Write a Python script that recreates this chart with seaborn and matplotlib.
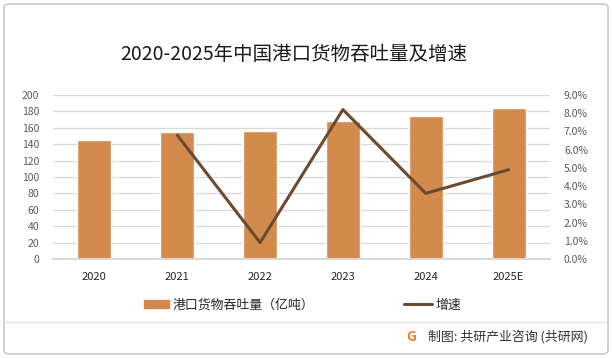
import numpy as np
import pandas as pd
import seaborn as sns
import matplotlib.pyplot as plt
from matplotlib.patches import FancyBboxPatch
from matplotlib.lines import Line2D
from matplotlib.ticker import PercentFormatter, MultipleLocator

years = ["2020", "2021", "2022", "2023", "2024", "2025E"]
throughput = [145, 155, 156, 168, 174, 184]          # 亿吨
growth = [np.nan, 6.8, 0.9, 8.2, 3.6, 4.9]           # %

bar_color = "#D38B4D"
line_color = "#6B4A2F"
grid_color = "#D9D9D9"
tick_color = "#595959"

sns.set_theme(style="white")
plt.rcParams["font.family"] = ["Noto Sans CJK SC", "DejaVu Sans"]

df = pd.DataFrame({"year": years, "throughput": throughput, "growth": growth})

fig = plt.figure(figsize=(6.12, 3.58), dpi=100)
ax = fig.add_axes([53 / 612, 1 - 259 / 358, 497 / 612, 164 / 358])

sns.barplot(data=df, x="year", y="throughput", color=bar_color, width=0.41,
            saturation=1, ax=ax, zorder=2)
ax.set_ylim(0, 200)
ax.yaxis.set_major_locator(MultipleLocator(20))
ax.grid(axis="y", color=grid_color, linewidth=0.9, zorder=0)
ax.set_axisbelow(True)
ax.set_xlabel("")
ax.set_ylabel("")

ax2 = ax.twinx()
sns.pointplot(data=df, x="year", y="growth", order=years, color=line_color,
              markers="", linewidth=2.2, ax=ax2, errorbar=None)
ax2.set_ylim(0, 9)
ax2.yaxis.set_major_locator(MultipleLocator(1))
ax2.yaxis.set_major_formatter(PercentFormatter(decimals=1))
ax2.set_ylabel("")
ax2.set_xlim(-0.5, 5.5)
ax.set_xlim(-0.5, 5.5)

for a in (ax, ax2):
    for s in ("left", "right", "top"):
        a.spines[s].set_visible(False)
    a.spines["bottom"].set_color(grid_color)
    a.tick_params(length=0, labelsize=7.5, colors=tick_color)
ax.tick_params(axis="x", labelsize=8, colors="#262626", pad=9)
ax.tick_params(axis="y", pad=10)
ax2.tick_params(axis="y", pad=10)
ax2.set_xlabel("")

fig.text(0.48, 1 - 55 / 358, "2020-2025年中国港口货物吞吐量及增速", ha="center",
         va="center", fontsize=14, color="#1a1a1a")

h1 = plt.Rectangle((0, 0), 1, 1, color=bar_color)
h2 = Line2D([0], [0], color=line_color, linewidth=2.2)
leg1 = fig.legend([h1], ["港口货物吞吐量（亿吨）"], loc="center left",
                  bbox_to_anchor=(132 / 612, 1 - 305 / 358), frameon=False,
                  fontsize=9.3, handlelength=2.0, handleheight=0.5,
                  handletextpad=0.25, labelcolor="#262626")
leg2 = fig.legend([h2], ["增速"], loc="center left",
                  bbox_to_anchor=(392 / 612, 1 - 305 / 358), frameon=False,
                  fontsize=9.3, handlelength=2.2, handletextpad=0.25,
                  labelcolor="#262626")

# frame and footer
fig.add_artist(FancyBboxPatch((4 / 612, 4 / 358), 604 / 612, 350 / 358,
                              boxstyle="round,pad=0,rounding_size=0.01",
                              transform=fig.transFigure, fill=False,
                              edgecolor="#BFBFBF", linewidth=1))
fig.add_artist(Line2D([6 / 612, 606 / 612], [1 - 322 / 358, 1 - 322 / 358],
                      transform=fig.transFigure, color="#E0E0E0", linewidth=1))
fig.text(411 / 612, 1 - 337 / 358, "G", ha="center", va="center",
         fontsize=10, fontweight="bold", color="#F07C2A")
fig.text(428 / 612, 1 - 337 / 358, "制图: 共研产业咨询 (共研网)", ha="left",
         va="center", fontsize=9.3, color="#333333")

fig.savefig("out.png", dpi=100)
